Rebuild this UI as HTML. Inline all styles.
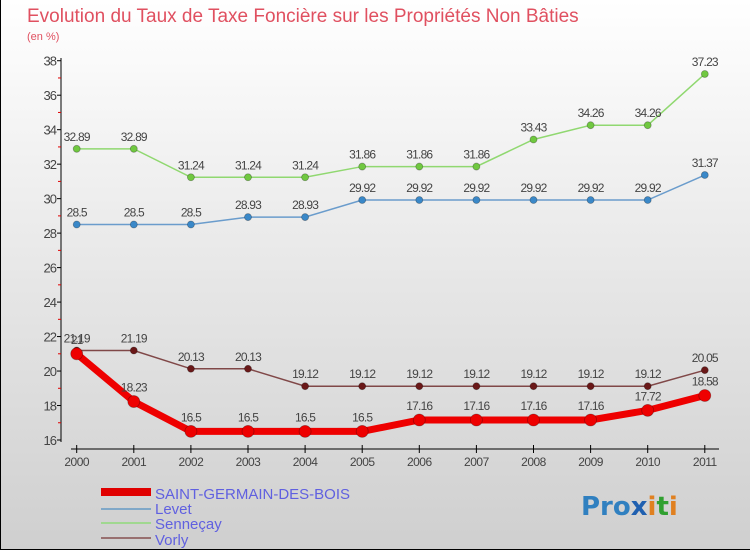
<!DOCTYPE html>
<html><head><meta charset="utf-8"><style>
body{margin:0;width:750px;height:550px;overflow:hidden;font-family:"Liberation Sans",sans-serif}
#c{position:absolute;left:0;top:0;width:750px;height:550px;box-sizing:border-box;border:1px solid #000;border-top:none;border-right:none;background:linear-gradient(#ffffff,#cfcfcf)}
</style></head><body>
<div id="c">
<svg id="s" width="750" height="550" xmlns="http://www.w3.org/2000/svg">
<text x="26" y="22" font-size="19" fill="#e05060" font-family="Liberation Sans,sans-serif">Evolution du Taux de Taxe Foncière sur les Propriétés Non Bâties</text>
<text x="26" y="40" font-size="11" fill="#e05060">(en %)</text>
<g id="axes"></g><g id="series"></g>
<g>
<rect x="100" y="488" width="50" height="8" fill="#e00000"/>
<text x="154" y="499" font-size="15" fill="#6060e0">SAINT-GERMAIN-DES-BOIS</text>
<rect x="100" y="508" width="50" height="2" fill="#80a8c8"/>
<text x="154" y="514" font-size="15" fill="#6060e0">Levet</text>
<rect x="100" y="522" width="50" height="2" fill="#a0d890"/>
<text x="154" y="529" font-size="15" fill="#6060e0">Senneçay</text>
<rect x="100" y="537" width="50" height="2" fill="#987070"/>
<text x="154" y="545" font-size="15" fill="#6060e0">Vorly</text>
</g>
<g font-size="26" font-weight="bold" font-family="DejaVu Sans,sans-serif">
<text x="580" y="515"><tspan fill="#3080c0">Pro</tspan><tspan fill="#2060b0">x</tspan><tspan fill="#e08020">i</tspan><tspan fill="#30a030">t</tspan><tspan fill="#e08020">i</tspan></text>
</g>
</svg></div>
<script>
const years=[2000,2001,2002,2003,2004,2005,2006,2007,2008,2009,2010,2011];
const yTicks=[16,18,20,22,24,26,28,30,32,34,36,38];
const saint=[21,18.23,16.5,16.5,16.5,16.5,17.16,17.16,17.16,17.16,17.72,18.58];
const levet=[28.5,28.5,28.5,28.93,28.93,29.92,29.92,29.92,29.92,29.92,29.92,31.37];
const sennecay=[32.89,32.89,31.24,31.24,31.24,31.86,31.86,31.86,33.43,34.26,34.26,37.23];
const vorly=[21.19,21.19,20.13,20.13,19.12,19.12,19.12,19.12,19.12,19.12,19.12,20.05];
const NS='http://www.w3.org/2000/svg';
const X=i=>75.7+i*57.1, Y=v=>440-(v-16)*17.24;
function mk(t,a,p){const e=document.createElementNS(NS,t);for(const k in a)e.setAttribute(k,a[k]);p.appendChild(e);return e;}
const ax=document.getElementById('axes');
let e=mk('line',{x1:60,y1:58,x2:60,y2:442,stroke:'#000'},ax);


e=mk('line',{x1:70,y1:449,x2:718,y2:449,stroke:'#000'},ax);


yTicks.forEach((t,i)=>{
 mk('line',{x1:56,y1:Y(t),x2:60,y2:Y(t),stroke:'#000'},ax);
 if(i<yTicks.length-1)mk('line',{x1:57,y1:Y(t+1),x2:60,y2:Y(t+1),stroke:'#e00000'},ax);
 const l=mk('text',{x:55,y:Y(t)+5,'font-size':13,fill:'#444','text-anchor':'end','letter-spacing':'-1'},ax);
 l.textContent=t;
 
 
});
years.forEach((y,i)=>{
 mk('line',{x1:X(i),y1:445,x2:X(i),y2:453,stroke:'#000'},ax);
 const l=mk('text',{x:X(i),y:466,'font-size':12,fill:'#444','text-anchor':'middle','letter-spacing':'-0.5'},ax);
 l.textContent=y;
 
 
});
const sg=document.getElementById('series');
function series(vals,name,stroke,w,fill,r,dy){
 const g=mk('g',{},sg);
 
 
 mk('polyline',{points:vals.map((v,i)=>X(i)+','+Y(v)).join(' '),fill:'none',stroke,'stroke-width':w},g);
 vals.forEach((v,i)=>{
  const c=mk('circle',{cx:X(i),cy:Y(v),r,fill,stroke:'rgba(0,0,0,0.3)','stroke-width':0.8},g);
  
  
  const t=mk('text',{x:X(i),y:Y(v)+dy,'font-size':12,fill:'#444','text-anchor':'middle','letter-spacing':'-0.8'},g);
  t.textContent=v;
  
  
 });
}
series(levet,'levet-line','#6a9ccc',1.5,'#3a88c8',3.5,-8);
series(sennecay,'sennecay-line','#90d870',1.5,'#70c840',3.5,-8);
series(vorly,'vorly-line','#804848',1.5,'#6a1818',3.5,-8);
series(saint,'saint-germain-line','#ee0000',7,'#ee0000',6,-10);
</script>
</body></html>
